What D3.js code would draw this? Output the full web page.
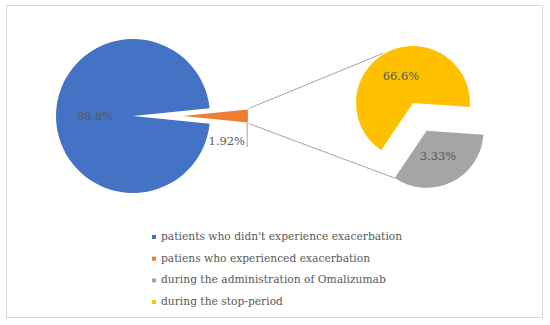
<!DOCTYPE html>
<html><head><meta charset="utf-8">
<script src="https://cdn.jsdelivr.net/npm/d3@7"></script>
<style>html,body{margin:0;padding:0;background:#fff;}svg{display:block;}</style>
</head><body>
<svg id="chart" width="550" height="325"></svg>
<script>
// ---- data ----
const mainCategories = ["patients who didn't experience exacerbation", "patiens who experienced exacerbation"];
const mainValues = [96.8, 3.2];          // slice sizes
const mainLabels = ["98.8%", "1.92%"];
const subCategories = ["during the administration of Omalizumab", "during the stop-period"];
const subValues = [33.3, 66.6];
const subLabels = ["3.33%", "66.6%"];
const legendCategories = [mainCategories[0], mainCategories[1], subCategories[0], subCategories[1]];
const colors = ["#4472C4", "#ED7D31", "#A5A5A5", "#FFC000"];

const svg = d3.select("#chart");
svg.append("rect").attr("x", 6.5).attr("y", 5.5).attr("width", 536).attr("height", 312)
  .attr("fill", "#fff").attr("stroke", "#D9D9D9").attr("stroke-width", 1);

const font = "'DejaVu Serif', serif";
const textColor = "#595959";

// ---- main pie ----
const mc = [133, 116], mr = 77;
const orangeAngle = 2 * Math.PI * mainValues[1] / d3.sum(mainValues);
const mainPie = d3.pie().sort(null)
  .startAngle(Math.PI / 2 + orangeAngle / 2)
  .endAngle(Math.PI / 2 + orangeAngle / 2 + 2 * Math.PI);
const mainArcs = mainPie(mainValues);
const gMain = svg.append("g").attr("transform", `translate(${mc[0]},${mc[1]})`);
const explodeOrange = 50, orangeR = 65;
gMain.selectAll("path").data(mainArcs).enter().append("path")
  .attr("d", (d, i) => d3.arc().innerRadius(0).outerRadius(i === 0 ? mr : orangeR)(d))
  .attr("transform", (d, i) => {
    if (i === 0) return null;
    const a = (d.startAngle + d.endAngle) / 2;
    return `translate(${explodeOrange * Math.sin(a)},${-explodeOrange * Math.cos(a)})`;
  })
  .attr("fill", (d, i) => colors[i]);

// orange outer corners (absolute)
const oA = mainArcs[1];
const oMid = (oA.startAngle + oA.endAngle) / 2;
const oC = [mc[0] + explodeOrange * Math.sin(oMid), mc[1] - explodeOrange * Math.cos(oMid)];
const pt = (c, r, a) => [c[0] + r * Math.sin(a), c[1] - r * Math.cos(a)];
const oTop = pt(oC, orangeR, oA.startAngle);
const oBot = pt(oC, orangeR, oA.endAngle);

// ---- sub pie ----
const sc = [413, 103], sr = 57, grayExplode = 31;
const subStart = (90 + 4) * Math.PI / 180;
const subPie = d3.pie().sort(null).startAngle(subStart).endAngle(subStart + 2 * Math.PI);
const subArcs = subPie(subValues);
const subArc = d3.arc().innerRadius(0).outerRadius(sr);
const offs = subArcs.map((d, i) => {
  const a = (d.startAngle + d.endAngle) / 2;
  return i === 0 ? [grayExplode * Math.sin(a), -grayExplode * Math.cos(a)] : [0, 0];
});
const gSub = svg.append("g").attr("transform", `translate(${sc[0]},${sc[1]})`);
gSub.selectAll("path").data(subArcs).enter().append("path")
  .attr("d", subArc)
  .attr("transform", (d, i) => `translate(${offs[i][0]},${offs[i][1]})`)
  .attr("fill", (d, i) => colors[2 + i]);

// connector lines
const upperEnd = pt(sc, sr + 1, -31 * Math.PI / 180);
const grayC = [sc[0] + offs[0][0], sc[1] + offs[0][1]];
const lowerEnd = pt(grayC, sr, subArcs[0].endAngle);
svg.append("line").attr("x1", oTop[0] + 1).attr("y1", oTop[1] - 1).attr("x2", upperEnd[0]).attr("y2", upperEnd[1])
  .attr("stroke", "#A5A5A5").attr("stroke-width", 1);
svg.append("line").attr("x1", oBot[0] + 1).attr("y1", oBot[1] + 1).attr("x2", lowerEnd[0]).attr("y2", lowerEnd[1])
  .attr("stroke", "#A5A5A5").attr("stroke-width", 1);

// ---- labels ----
const lab = (x, y, t, anchor) => svg.append("text").attr("x", x).attr("y", y).text(t)
  .attr("font-family", font).attr("font-size", 11.5).attr("fill", textColor)
  .attr("text-anchor", anchor || "middle").attr("dominant-baseline", "middle");
lab(95, 117, mainLabels[0]);
lab(245, 142, mainLabels[1], "end");
svg.append("line").attr("x1", oBot[0] - 0.5).attr("y1", oBot[1]).attr("x2", oBot[0] - 0.5).attr("y2", 147)
  .attr("stroke", "#A5A5A5").attr("stroke-width", 1);
// sub labels
const subLabelPos = [[438, 157], [401, 77]];
subLabels.forEach((t, i) => lab(subLabelPos[i][0], subLabelPos[i][1], t));

// ---- legend ----
const legend = svg.append("g").attr("transform", "translate(152,237)");
legendCategories.forEach((c, i) => {
  const g = legend.append("g").attr("transform", `translate(0,${i * 21.7})`);
  g.append("rect").attr("x", 0).attr("y", -2).attr("width", 4).attr("height", 4).attr("fill", colors[i]);
  g.append("text").attr("x", 9).attr("y", 0).text(c)
    .attr("font-family", font).attr("font-size", 10.7).attr("fill", textColor)
    .attr("dominant-baseline", "middle");
});
</script>
</body></html>
